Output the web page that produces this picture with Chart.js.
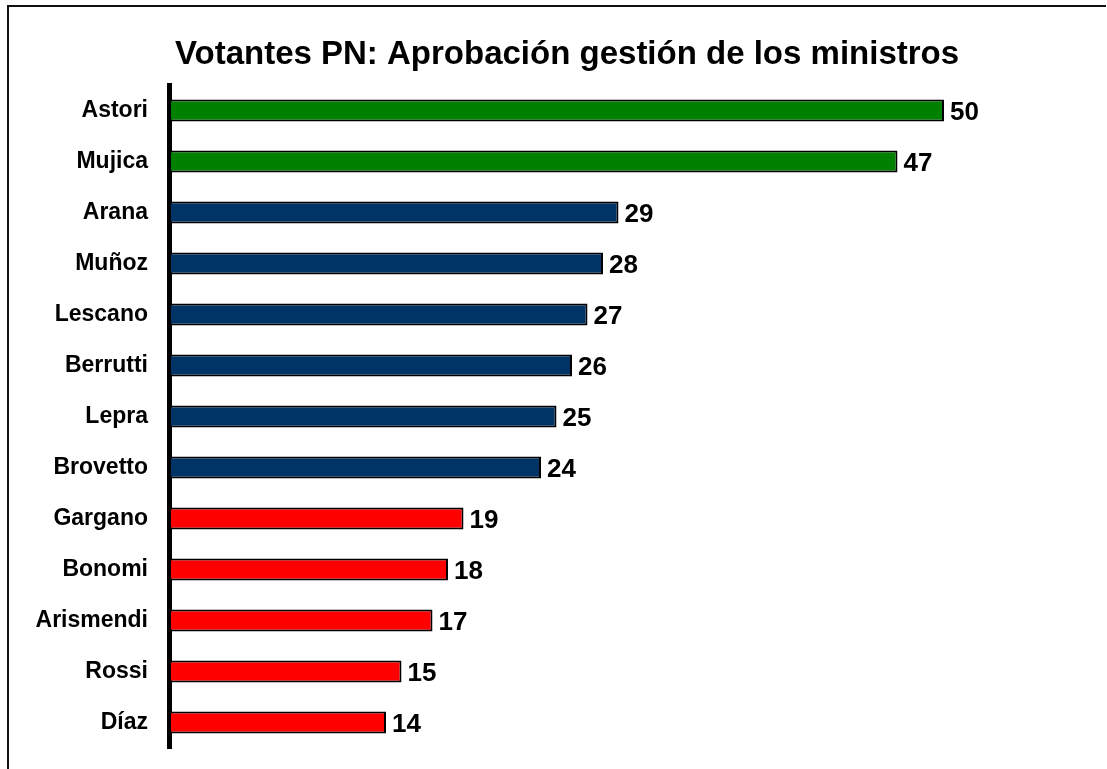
<!DOCTYPE html>
<html lang="es">
<head>
    <meta charset="UTF-8">
    <title>Votantes PN</title>
    <script src="https://cdn.jsdelivr.net/npm/chart.js@4.4.0/dist/chart.umd.min.js"></script>
    <style>
        html, body { margin: 0; padding: 0; background: #fff; overflow: hidden; }
        body { width: 1107px; height: 769px; position: relative; }
        .frame {
            position: absolute; left: 7px; top: 5px; width: 1097px; height: 762px;
            border-left: 2px solid #111; border-top: 2px solid #111;
        }
        #chart { position: absolute; left: 0; top: 0; }
    </style>
</head>
<body>
    <div class="frame"></div>
    <canvas id="chart" width="1107" height="769"></canvas>
    <script>
        // data
        var ministros = ["Astori", "Mujica", "Arana", "Muñoz", "Lescano", "Berrutti", "Lepra",
                         "Brovetto", "Gargano", "Bonomi", "Arismendi", "Rossi", "Díaz"];
        var aprobacion = [50, 47, 29, 28, 27, 26, 25, 24, 19, 18, 17, 15, 14];
        var colores = ["#008000", "#008000", "#003366", "#003366", "#003366", "#003366", "#003366",
                       "#003366", "#ff0000", "#ff0000", "#ff0000", "#ff0000", "#ff0000"];
        var fontName = "'Liberation Sans', Arial, sans-serif";

        // numbers at the end of each bar
        var valueLabels = {
            id: 'valueLabels',
            afterDatasetsDraw: function (chart) {
                var ctx = chart.ctx;
                var meta = chart.getDatasetMeta(0);
                ctx.save();
                ctx.font = "bold 26px " + fontName;
                ctx.fillStyle = "#000";
                ctx.textAlign = "left";
                ctx.textBaseline = "middle";
                meta.data.forEach(function (bar, i) {
                    ctx.fillText(String(chart.data.datasets[0].data[i]), bar.x + 6, bar.y + 2);
                });
                ctx.restore();
            }
        };

        const ctx = document.getElementById("chart").getContext("2d");
        const myChart = new Chart(ctx, {
            type: "bar",
            data: {
                labels: ministros,
                datasets: [{
                    data: aprobacion,
                    backgroundColor: colores,
                    borderColor: "#000",
                    borderWidth: 2,
                    borderSkipped: false,
                    categoryPercentage: 1,
                    barPercentage: 0.43
                }]
            },
            options: {
                indexAxis: "y",
                responsive: false,
                animation: false,
                layout: { padding: { left: 35, right: 8, top: 0, bottom: 21 } },
                plugins: {
                    legend: { display: false },
                    tooltip: { enabled: false },
                    title: {
                        display: true,
                        text: "Votantes PN: Aprobación gestión de los ministros",
                        color: "#000",
                        font: { family: fontName, size: 33, weight: "bold", lineHeight: 1.2 },
                        padding: { top: 35, bottom: 10.4 }
                    }
                },
                scales: {
                    x: {
                        display: false,
                        min: 0,
                        max: 60
                    },
                    y: {
                        afterFit: function (scale) {
                            scale.width = 134;
                            scale.paddingTop = 0;
                            scale.paddingBottom = 0;
                        },
                        grid: { display: false, drawTicks: false },
                        border: { display: true, color: "#000", width: 5 },
                        ticks: {
                            color: "#000",
                            padding: 21,
                            font: { family: fontName, size: 23, weight: "bold" }
                        }
                    }
                }
            },
            plugins: [valueLabels]
        });
    </script>
</body>
</html>
